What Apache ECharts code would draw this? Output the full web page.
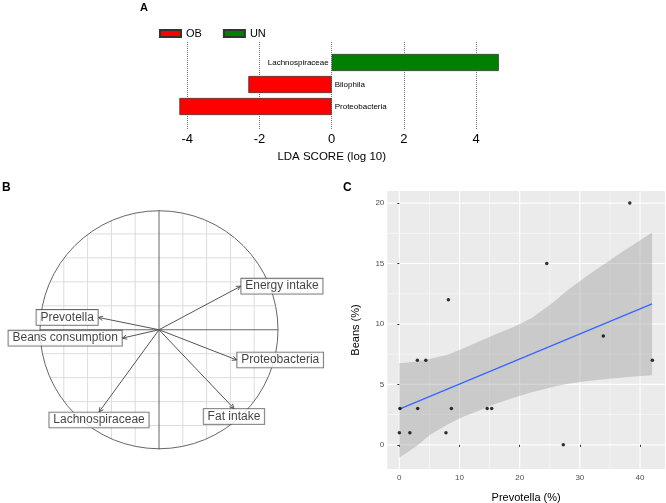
<!DOCTYPE html>
<html><head><meta charset="utf-8">
<script src="https://cdn.jsdelivr.net/npm/echarts@6/dist/echarts.min.js"></script>
<style>html,body{margin:0;padding:0;background:#fff}#c{width:666px;height:503px}</style>
</head><body><div id="c"></div>
<script>
// ---------- Panel A: LDA scores ----------
const ldaTaxa = ['Lachnospiraceae', 'Bilophila', 'Proteobacteria'];
const ldaScore = [4.63, -2.31, -4.22];
const ldaGroup = ['UN', 'OB', 'OB'];
const ldaGroups = ['OB', 'UN'];
const ldaTicks = [-4, -2, 0, 2, 4];

// ---------- Panel B: correlation circle ----------
const pcaVars = ['Energy intake', 'Prevotella', 'Beans consumption', 'Proteobacteria', 'Fat intake', 'Lachnospiraceae'];
const pcaX = [0.687, -0.51, -0.308, 0.653, 0.63, -0.504];
const pcaY = [0.364, 0.103, -0.07, -0.252, -0.658, -0.687];
const pcaGridValues = [-0.8, -0.6, -0.4, -0.2, 0.2, 0.4, 0.6, 0.8];

// ---------- Panel C: Prevotella vs Beans ----------
const prevotella = [38.3, 24.5, 8.15, 33.9, 3.0, 4.4, 42.05, 0.1, 3.05, 8.65, 14.6, 15.35, 0.0, 1.75, 7.75, 27.25];
const beans      = [20, 15, 12, 9, 7, 7, 7, 3, 3, 3, 3, 3, 1, 1, 1, 0];
const fitX = [0, 42];
const fitY = [2.95, 11.66];
const ciX     = [0, 3, 5, 8, 10.5, 13.4, 16, 19, 22, 25.6, 28, 31, 34, 36.7, 39, 42];
const ciLower = [-1.07, -0.05, 0.8, 1.69, 2.3, 2.87, 3.4, 3.9, 4.35, 4.8, 5.05, 5.25, 5.42, 5.55, 5.65, 5.75];
const ciUpper = [6.74, 6.9, 7.1, 7.45, 7.95, 8.6, 9.15, 9.75, 10.5, 11.8, 12.8, 13.9, 14.95, 15.85, 16.6, 17.57];
const cXTicks = [0, 10, 20, 30, 40];
const cYTicks = [0, 5, 10, 15, 20];
const cXMinor = [5, 15, 25, 35];
const cYMinor = [2.5, 7.5, 12.5, 17.5];

// ---------- styles ----------
const groupColor = { OB: '#FF0000', UN: '#008000' };
const pcaLabelPos = ['right', 'left', 'left', 'right', 'bottom', 'bottom'];
const FONT = '"Liberation Sans", Arial, sans-serif';

const chart = echarts.init(document.getElementById('c'), null, { renderer: 'canvas' });

const ldaSeries = ldaGroups.map(g => ({
  type: 'bar', name: g, xAxisIndex: 1, yAxisIndex: 1, stack: 'lda', barWidth: 17,
  data: ldaScore.map((v, i) => ldaGroup[i] === g ? v : '-'),
  itemStyle: { color: groupColor[g], borderColor: '#333', borderWidth: 0.7 },
  label: {
    show: true, position: g === 'UN' ? 'left' : 'right', distance: 3,
    formatter: p => ldaTaxa[p.dataIndex], fontSize: 8, color: '#000', fontFamily: FONT
  },
  animation: false
}));

const option = {
  animation: false,
  backgroundColor: '#fff',
  textStyle: { fontFamily: FONT },
  title: [
    { text: 'A', left: 135, top: -3, textStyle: { fontSize: 11, fontWeight: 'bold', color: '#000' } },
    { text: 'B', left: -3, top: 177, textStyle: { fontSize: 12, fontWeight: 'bold', color: '#000' } },
    { text: 'C', left: 338, top: 177, textStyle: { fontSize: 12, fontWeight: 'bold', color: '#000' } }
  ],
  legend: {
    data: ldaGroups, left: 154, top: 23, itemWidth: 21, itemHeight: 7, itemGap: 21,
    icon: 'rect', selectedMode: false,
    textStyle: { fontSize: 11, color: '#000', fontFamily: FONT }
  },
  grid: [
    { left: 115.1, width: 433.2, top: 42, height: 88, outerBoundsMode: 'none' },
    { left: 115.1, width: 433.2, top: 51.5, height: 66, outerBoundsMode: 'none' },
    { left: 40, top: 210, width: 238, height: 239.5, outerBoundsMode: 'none' },
    { left: 387.3, top: 191, width: 277.7, height: 278, show: true, backgroundColor: '#EBEBEB', borderWidth: 0, outerBoundsMode: 'none' }
  ],
  xAxis: [
    {
      gridIndex: 0, type: 'value', min: -6, max: 6, interval: 2,
      axisLine: { show: false }, axisTick: { show: false },
      splitLine: { show: true, showMinLine: false, showMaxLine: false, lineStyle: { type: 'dotted', color: '#777', width: 1 } },
      axisLabel: { formatter: v => ldaTicks.includes(v) ? String(v) : '', fontSize: 13, color: '#000', margin: 3 },
      name: 'LDA SCORE (log 10)', nameLocation: 'middle', nameGap: 21,
      nameTextStyle: { fontSize: 11.5, color: '#000' }
    },
    { gridIndex: 1, type: 'value', min: -6, max: 6, show: false },
    { gridIndex: 2, type: 'value', min: -1, max: 1, show: false },
    {
      gridIndex: 3, type: 'value', min: -2, max: 44.15,
      axisLine: { show: false },
      axisTick: { show: true, customValues: cXTicks, length: 2, lineStyle: { color: '#333' } },
      axisLabel: { customValues: cXTicks, fontSize: 8, color: '#4D4D4D', margin: 5 },
      splitLine: { show: false },
      name: 'Prevotella (%)', nameLocation: 'middle', nameGap: 23,
      nameTextStyle: { fontSize: 11, color: '#000' }
    }
  ],
  yAxis: [
    { gridIndex: 0, type: 'category', data: [''], show: false },
    { gridIndex: 1, type: 'category', data: ldaTaxa, inverse: true, show: false },
    { gridIndex: 2, type: 'value', min: -1, max: 1, show: false },
    {
      gridIndex: 3, type: 'value', min: -2, max: 21,
      axisLine: { show: false },
      axisTick: { show: true, customValues: cYTicks, length: 2, lineStyle: { color: '#333' } },
      axisLabel: { customValues: cYTicks, fontSize: 8, color: '#4D4D4D', margin: 3 },
      splitLine: { show: false },
      name: 'Beans (%)', nameLocation: 'middle', nameGap: 26, nameRotate: 90,
      nameTextStyle: { fontSize: 11, color: '#000' }
    }
  ],
  series: [
    ...ldaSeries,
    // Panel B: circle, clipped grid, axes
    {
      type: 'custom', xAxisIndex: 2, yAxisIndex: 2, data: [[0, 0]], silent: true, z: 1,
      renderItem: (params, api) => {
        const children = [];
        const seg = (a, b, stroke, w) => {
          const p1 = api.coord(a), p2 = api.coord(b);
          children.push({ type: 'line', shape: { x1: p1[0], y1: p1[1], x2: p2[0], y2: p2[1] }, style: { stroke, lineWidth: w } });
        };
        pcaGridValues.forEach(v => {
          const h = Math.sqrt(1 - v * v);
          seg([v, -h], [v, h], '#DCDCDC', 1);
          seg([-h, v], [h, v], '#DCDCDC', 1);
        });
        seg([-1, 0], [1, 0], '#666', 1);
        seg([0, -1], [0, 1], '#666', 1);
        const c = api.coord([0, 0]);
        const r = api.coord([1, 0])[0] - c[0];
        children.push({ type: 'circle', shape: { cx: c[0], cy: c[1], r }, style: { fill: null, stroke: '#666', lineWidth: 1 } });
        return { type: 'group', children };
      }
    },
    // Panel B: arrows
    {
      type: 'custom', xAxisIndex: 2, yAxisIndex: 2, silent: true, z: 2,
      data: pcaX.map((x, i) => [x, pcaY[i]]),
      renderItem: (params, api) => {
        const c = api.coord([0, 0]);
        const t = api.coord([api.value(0), api.value(1)]);
        const ang = Math.atan2(t[1] - c[1], t[0] - c[0]);
        const L = 5, A = Math.PI / 7;
        const h1 = [t[0] - L * Math.cos(ang - A), t[1] - L * Math.sin(ang - A)];
        const h2 = [t[0] - L * Math.cos(ang + A), t[1] - L * Math.sin(ang + A)];
        return {
          type: 'group', children: [
            { type: 'line', shape: { x1: c[0], y1: c[1], x2: t[0], y2: t[1] }, style: { stroke: '#555', lineWidth: 1 } },
            { type: 'polyline', shape: { points: [h1, t, h2] }, style: { stroke: '#555', fill: null, lineWidth: 1 } }
          ]
        };
      }
    },
    // Panel B: labels
    {
      type: 'scatter', xAxisIndex: 2, yAxisIndex: 2, symbolSize: 1, z: 3, silent: true,
      itemStyle: { color: 'transparent' },
      data: pcaX.map((x, i) => ({
        value: [x, pcaY[i]], name: pcaVars[i],
        label: { position: pcaLabelPos[i] }
      })),
      label: {
        show: true, formatter: p => p.name, distance: 0, fontSize: 12, color: '#111',
        backgroundColor: '#fff', borderColor: '#444', borderWidth: 0.8, padding: [1, 4, 1, 4], lineHeight: 13
      }
    },
    // Panel C: grid lines
    {
      type: 'custom', xAxisIndex: 3, yAxisIndex: 3, data: [[0, 0]], silent: true, z: 0,
      renderItem: (params, api) => {
        const cs = params.coordSys;
        const children = [];
        const vline = (v, w) => { const x = api.coord([v, 0])[0]; children.push({ type: 'line', shape: { x1: x, y1: cs.y, x2: x, y2: cs.y + cs.height }, style: { stroke: '#fff', lineWidth: w } }); };
        const hline = (v, w) => { const y = api.coord([0, v])[1]; children.push({ type: 'line', shape: { x1: cs.x, y1: y, x2: cs.x + cs.width, y2: y }, style: { stroke: '#fff', lineWidth: w } }); };
        cXMinor.forEach(v => vline(v, 0.5));
        cYMinor.forEach(v => hline(v, 0.5));
        cXTicks.forEach(v => vline(v, 1.1));
        cYTicks.forEach(v => hline(v, 1.1));
        return { type: 'group', children };
      }
    },
    // Panel C: confidence band (polygon between upper and lower)
    {
      type: 'custom', xAxisIndex: 3, yAxisIndex: 3, data: [[0, 0]], silent: true, z: 1,
      renderItem: (params, api) => {
        const pts = [];
        ciX.forEach((x, i) => pts.push(api.coord([x, ciUpper[i]])));
        for (let i = ciX.length - 1; i >= 0; i--) pts.push(api.coord([ciX[i], ciLower[i]]));
        return { type: 'polygon', shape: { points: pts }, style: { fill: 'rgba(153,153,153,0.4)', stroke: null } };
      }
    },
    // Panel C: fit line
    {
      type: 'line', xAxisIndex: 3, yAxisIndex: 3, symbol: 'none', z: 2, silent: true,
      lineStyle: { color: '#3366FF', width: 1.2 },
      data: fitX.map((x, i) => [x, fitY[i]])
    },
    // Panel C: points
    {
      type: 'scatter', xAxisIndex: 3, yAxisIndex: 3, symbolSize: 3.5, z: 3,
      itemStyle: { color: '#000' },
      data: prevotella.map((x, i) => [x, beans[i]])
    }
  ]
};
chart.setOption(option);
</script>
</body></html>
